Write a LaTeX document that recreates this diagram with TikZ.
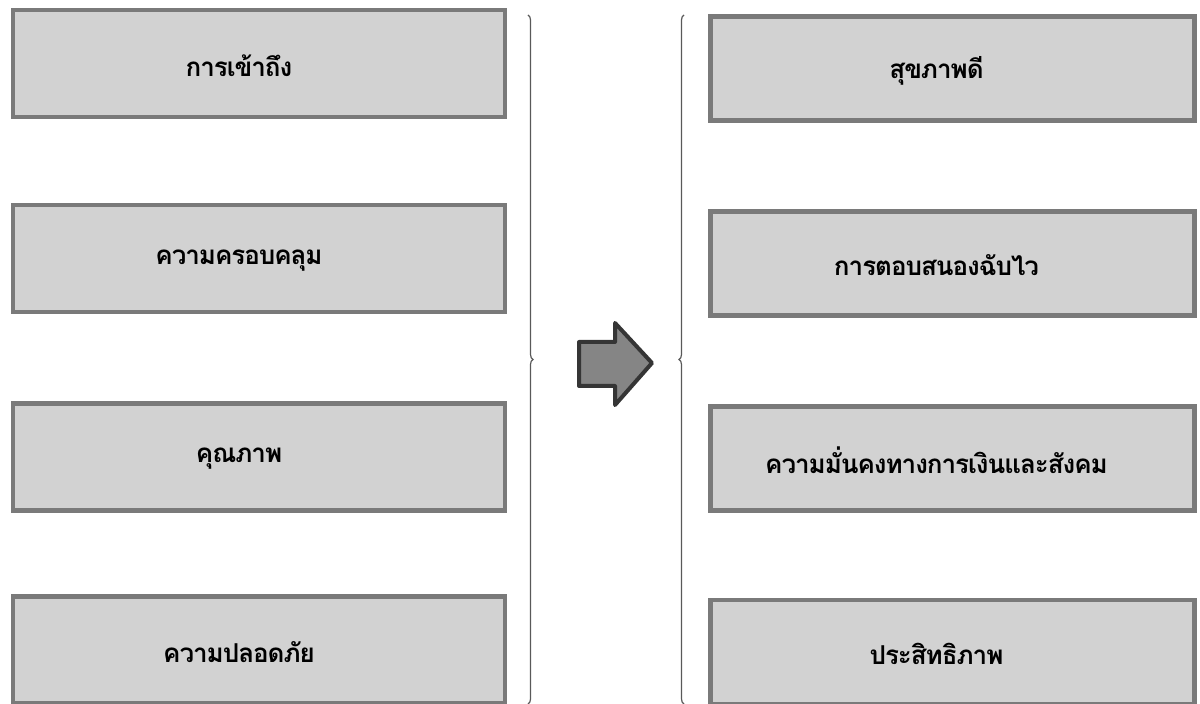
\documentclass[tikz,border=0pt]{standalone}
\usepackage{fontspec}
\newfontfamily\thaifont[Script=Thai,LetterSpace=-4]{Loma}
\usetikzlibrary{decorations.pathreplacing}
\definecolor{boxfill}{HTML}{D2D2D2}
\definecolor{boxline}{HTML}{7A7A7A}
\definecolor{arrowfill}{HTML}{858585}
\definecolor{arrowline}{HTML}{353535}
\tikzset{
  box/.style={draw=boxline, fill=boxfill, line width=2.2pt, rectangle, inner sep=0pt},
  lbox/.style={box, minimum width=246pt, minimum height=53.5pt},
  rbox/.style={box, minimum width=242pt, minimum height=52pt},
  lbl/.style={font=\thaifont\bfseries\fontsize{13}{15}\selectfont},
  bracebar/.style={draw=gray!70!black, line width=0.6pt, decorate, decoration={brace, amplitude=2.5pt, aspect=0.5}},
  blockarrow/.style={draw=arrowline, fill=arrowfill, line width=2pt, line join=round}
}
\begin{document}
\begin{tikzpicture}[x=0.5pt, y=-0.5pt]
\useasboundingbox (0,0) rectangle (1200,704);
% left column
\node[lbox, label={[lbl, xshift=-10pt, yshift=-1pt]center:การเข้าถึง}] (l1) at (259,63.5) {};
\node[lbox, label={[lbl, xshift=-10pt, yshift=-1pt]center:ความครอบคลุม}] (l2) at (259,258.5) {};
\node[lbox, label={[lbl, xshift=-10pt, yshift=-1pt]center:คุณภาพ}] (l3) at (259,457) {};
\node[lbox, label={[lbl, xshift=-10pt, yshift=-1pt]center:ความปลอดภัย}] (l4) at (259,650) {};
% right column
\node[rbox, label={[lbl, xshift=-8pt, yshift=-1pt]center:สุขภาพดี}] (r1) at (952.5,68.5) {};
\node[rbox, label={[lbl, xshift=-8pt, yshift=-1pt]center:การตอบสนองฉับไว}] (r2) at (952.5,263.5) {};
\node[rbox, label={[lbl, xshift=-8pt, yshift=-1pt]center:ความมั่นคงทางการเงินและสังคม}] (r3) at (952.5,458.5) {};
\node[rbox, label={[lbl, xshift=-8pt, yshift=-1pt]center:ประสิทธิภาพ}] (r4) at (952.5,652) {};
% braces
\coordinate (lbt) at (528,15);
\coordinate (lbb) at (528,704);
\coordinate (rbt) at (684,15);
\coordinate (rbb) at (684,704);
\draw[bracebar] (lbt) -- (lbb);
\draw[bracebar] (rbb) -- (rbt);
% block arrow
\draw[blockarrow] (579,342) -- (615,342) -- (615,323) -- (652,363) -- (615,405) -- (615,386) -- (579,386) -- cycle;
\end{tikzpicture}
\end{document}
